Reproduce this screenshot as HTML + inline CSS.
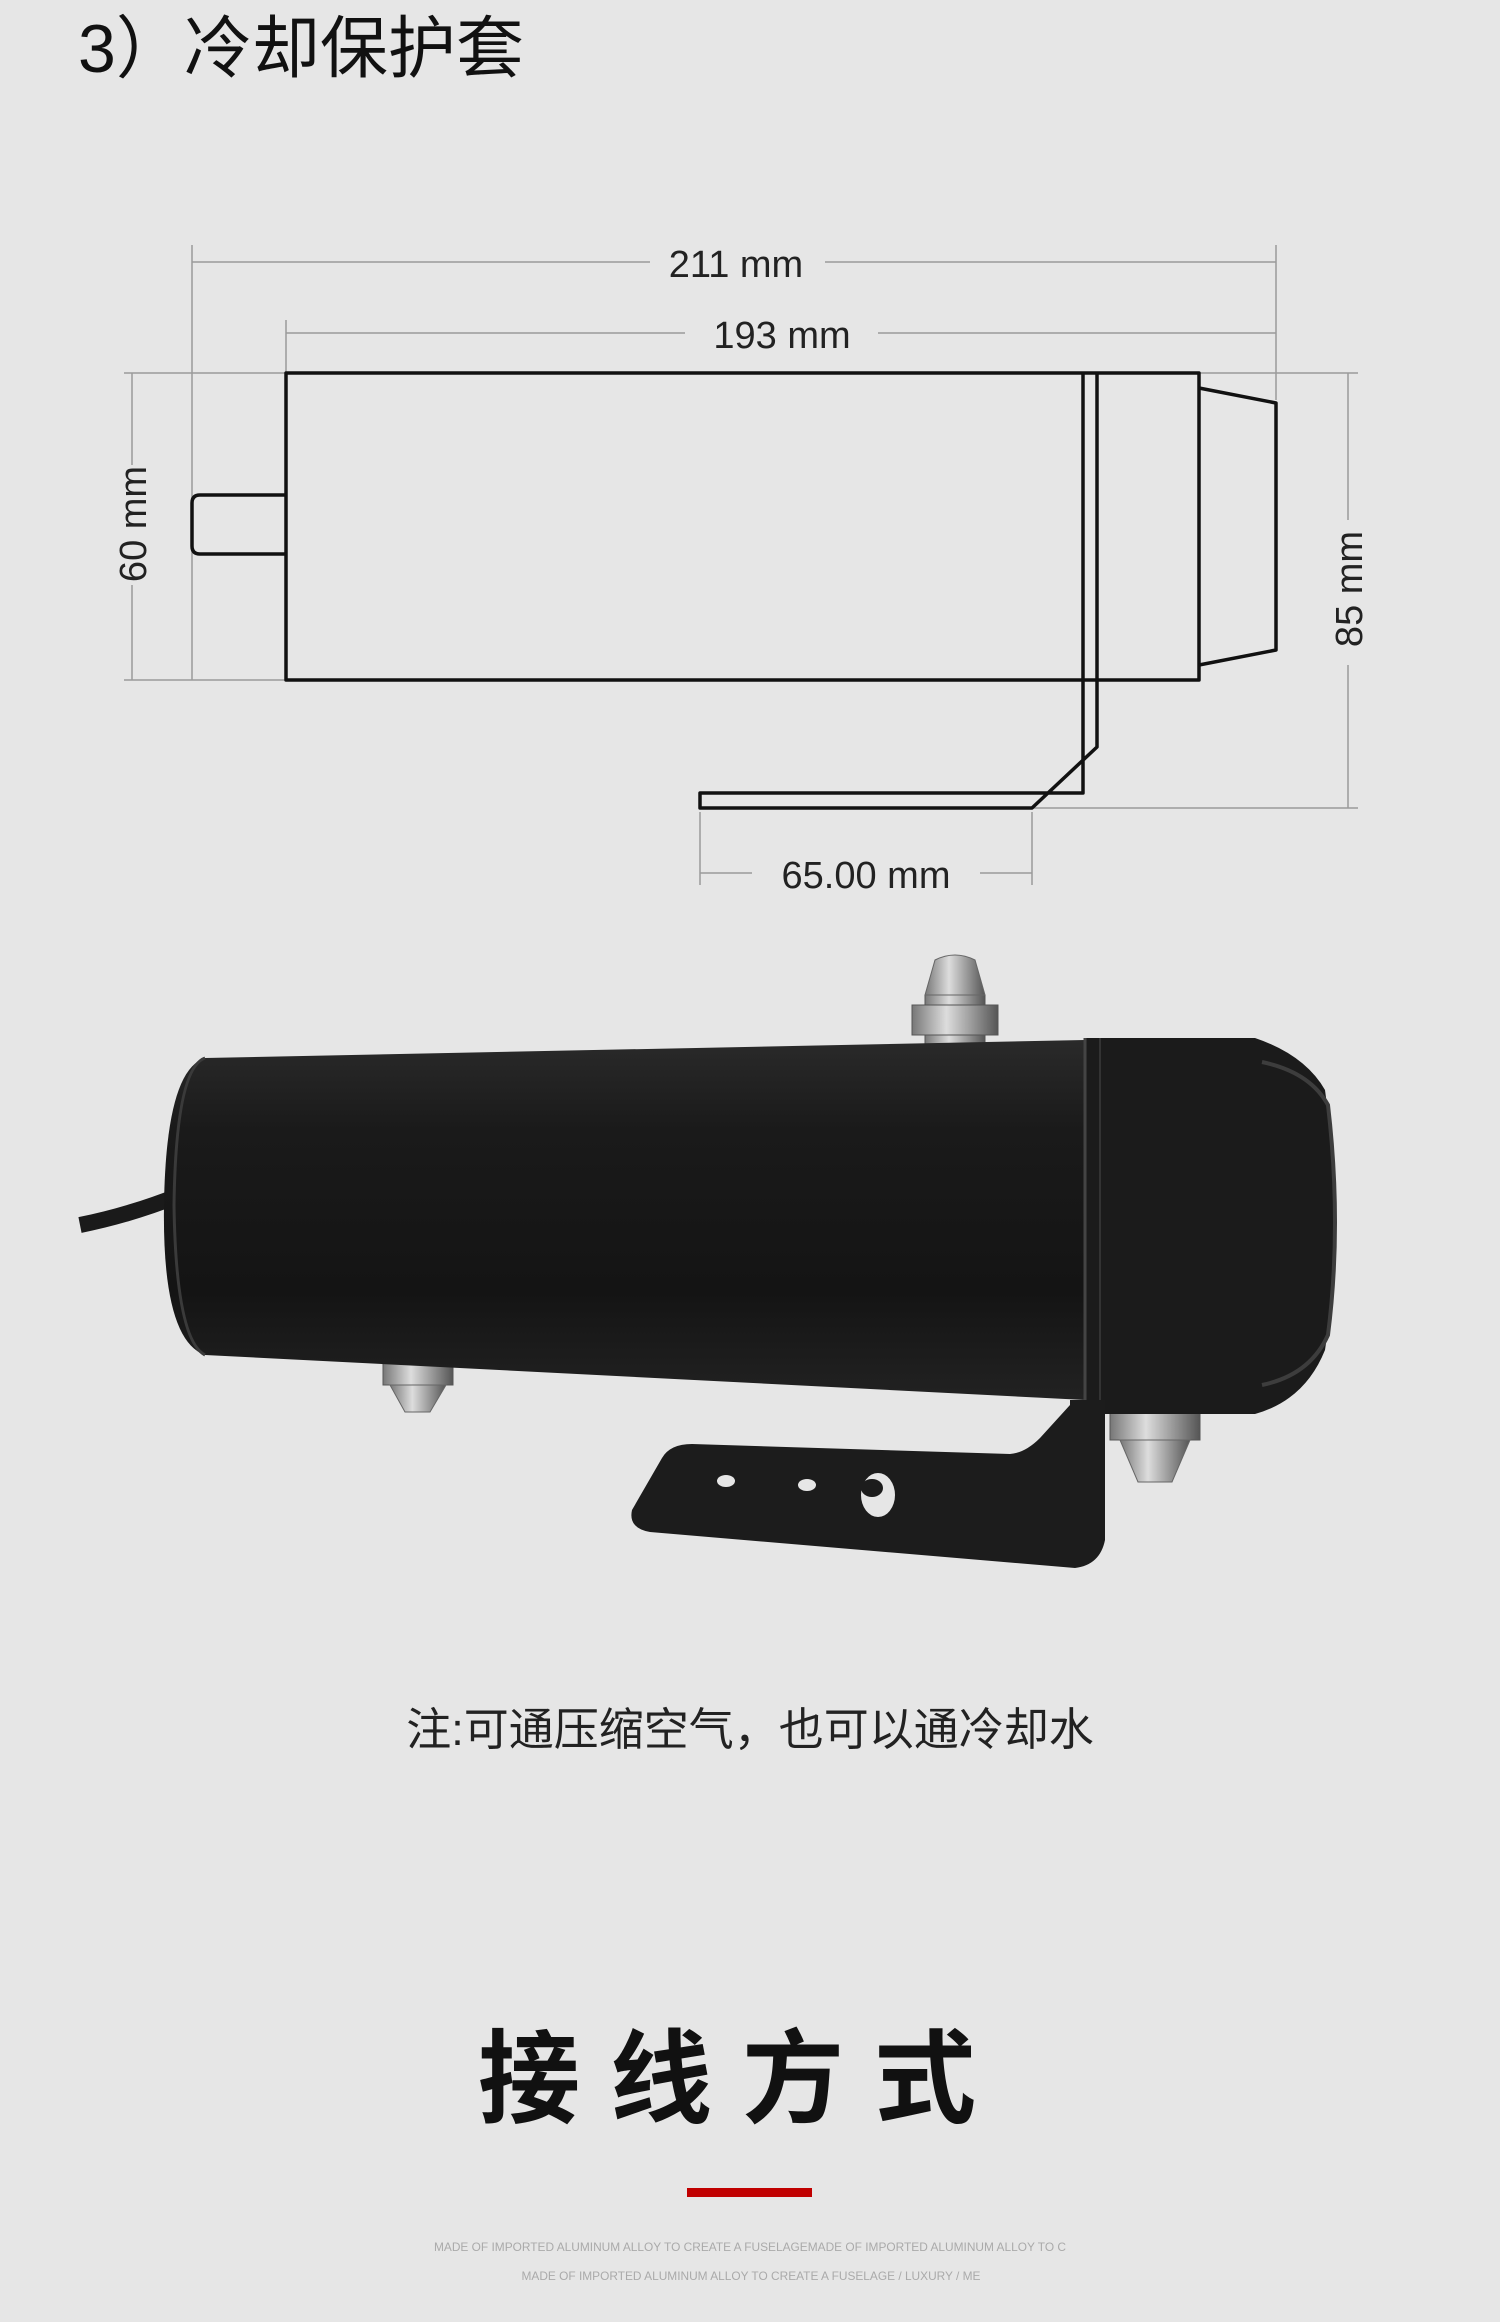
<!DOCTYPE html>
<html><head><meta charset="utf-8"><style>
html,body{margin:0;padding:0;background:#e6e6e6;}
body{width:1500px;height:2322px;position:relative;overflow:hidden;font-family:"Liberation Sans","Noto Sans CJK SC",sans-serif;}
svg{position:absolute;left:0;top:0;}
</style></head><body>
<svg width="1500" height="2322" viewBox="0 0 1500 2322" xmlns="http://www.w3.org/2000/svg">
<defs>
<linearGradient id="bg" x1="0" y1="0" x2="0" y2="1">
<stop offset="0" stop-color="#2a2a2a"/><stop offset="0.25" stop-color="#1a1a1a"/><stop offset="0.7" stop-color="#141414"/><stop offset="1" stop-color="#222"/></linearGradient>
<linearGradient id="metal" x1="0" y1="0" x2="1" y2="0">
<stop offset="0" stop-color="#777"/><stop offset="0.4" stop-color="#ddd"/><stop offset="0.7" stop-color="#999"/><stop offset="1" stop-color="#555"/></linearGradient>
</defs>
<text x="78" y="72" font-size="68" fill="#111" font-family="Liberation Sans, Noto Sans CJK SC, sans-serif">3）冷却保护套</text>

<g stroke="#9a9a9a" stroke-width="1.5" fill="none">
<line x1="192" y1="262" x2="650" y2="262"/><line x1="825" y1="262" x2="1276" y2="262"/>
<line x1="192" y1="245" x2="192" y2="680"/><line x1="1276" y1="245" x2="1276" y2="400"/>
<line x1="286" y1="333" x2="685" y2="333"/><line x1="878" y1="333" x2="1276" y2="333"/>
<line x1="286" y1="320" x2="286" y2="373"/>
<line x1="124" y1="373" x2="286" y2="373"/><line x1="124" y1="680" x2="286" y2="680"/>
<line x1="132" y1="373" x2="132" y2="465"/><line x1="132" y1="585" x2="132" y2="680"/>
<line x1="1199" y1="373" x2="1358" y2="373"/><line x1="1032" y1="808" x2="1358" y2="808"/>
<line x1="1348" y1="373" x2="1348" y2="520"/><line x1="1348" y1="665" x2="1348" y2="808"/>
<line x1="700" y1="812" x2="700" y2="885"/><line x1="1032" y1="812" x2="1032" y2="885"/>
<line x1="700" y1="873" x2="752" y2="873"/><line x1="980" y1="873" x2="1032" y2="873"/>
</g>
<g font-size="38" fill="#222" text-anchor="middle">
<text x="736" y="277">211 mm</text>
<text x="782" y="348">193 mm</text>
<text x="866" y="888">65.00 mm</text>
<text transform="translate(146,524) rotate(-90)">60 mm</text>
<text transform="translate(1362,589) rotate(-90)">85 mm</text>
</g>
<g stroke="#111" stroke-width="3.5" fill="none" stroke-linejoin="round">
<rect x="286" y="373" width="913" height="307"/>
<path d="M286 495 H200 Q192 495 192 503 V546 Q192 554 200 554 H286"/>
<path d="M1199 388 L1276 403 V650 L1199 665"/>
<path d="M1083 373 V793 L1032 793 H700 V808 H1032 L1097 747 V373"/>
</g>

<path d="M80 1225 Q130 1215 180 1195" stroke="#1a1a1a" stroke-width="16" fill="none"/>
<g>
<rect x="925" y="995" width="60" height="65" fill="url(#metal)" stroke="#555"/>
<rect x="912" y="1005" width="86" height="30" fill="url(#metal)" stroke="#555"/>
<path d="M925 995 L935 960 Q955 950 975 960 L985 995Z" fill="url(#metal)" stroke="#666"/>
<rect x="383" y="1350" width="70" height="35" fill="url(#metal)" stroke="#555"/>
<path d="M390 1385 H446 L430 1412 H405Z" fill="url(#metal)" stroke="#666"/>
<rect x="1110" y="1400" width="90" height="40" fill="url(#metal)" stroke="#555"/>
<path d="M1120 1440 H1190 L1172 1482 H1138Z" fill="url(#metal)" stroke="#666"/>
</g>
<path d="M205 1058 L1085 1040 L1085 1400 L205 1355 Q162 1340 164 1205 Q166 1070 205 1058Z" fill="url(#bg)"/>
<path d="M205 1058 Q176 1068 174 1205 Q176 1340 205 1355" stroke="#3a3a3a" stroke-width="3" fill="none"/>
<path d="M1085 1038 L1255 1038 Q1305 1055 1325 1090 Q1345 1225 1325 1350 Q1305 1400 1255 1414 L1085 1414Z" fill="#1b1b1b"/>
<path d="M1262 1062 Q1310 1072 1328 1105 Q1342 1225 1328 1335 Q1310 1375 1262 1385" stroke="#3d3d3d" stroke-width="4" fill="none"/>
<line x1="1085" y1="1038" x2="1085" y2="1414" stroke="#444" stroke-width="3"/>
<line x1="1100" y1="1038" x2="1100" y2="1414" stroke="#333" stroke-width="2"/>
<path d="M1070 1400 H1105 V1540 Q1100 1565 1075 1568 L650 1532 Q628 1528 632 1510 L662 1458 Q670 1444 692 1444 L1010 1454 Q1025 1453 1040 1438 L1070 1405Z" fill="#1c1c1c"/>
<ellipse cx="726" cy="1481" rx="9" ry="6" fill="#e6e6e6"/>
<ellipse cx="807" cy="1485" rx="9" ry="6" fill="#e6e6e6"/>
<ellipse cx="878" cy="1495" rx="17" ry="22" fill="#e6e6e6"/>
<ellipse cx="872" cy="1488" rx="11" ry="9" fill="#1c1c1c"/>

<text x="750" y="1745" font-size="45" fill="#222" text-anchor="middle">注:可通压缩空气，也可以通冷却水</text>
<text x="742" y="2115" font-size="102" font-weight="bold" fill="#111" text-anchor="middle" letter-spacing="30">接线方式</text>
<rect x="687" y="2188" width="125" height="9" fill="#c00000"/>
<text x="750" y="2251" font-size="12" fill="#aaa" text-anchor="middle" textLength="632" lengthAdjust="spacingAndGlyphs">MADE OF IMPORTED ALUMINUM ALLOY TO CREATE A FUSELAGEMADE OF IMPORTED ALUMINUM ALLOY TO C</text>
<text x="751" y="2280" font-size="12" fill="#aaa" text-anchor="middle" textLength="459" lengthAdjust="spacingAndGlyphs">MADE OF IMPORTED ALUMINUM ALLOY TO CREATE A FUSELAGE / LUXURY / ME</text>
</svg>
</body></html>
